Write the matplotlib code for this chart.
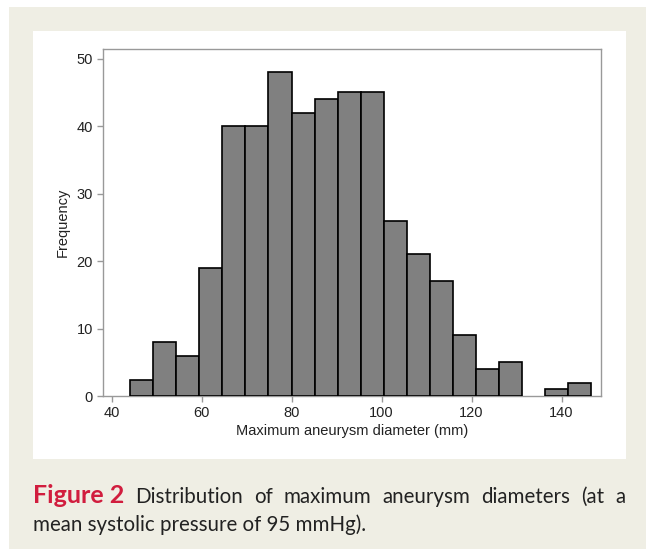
import numpy as np
import matplotlib.pyplot as plt
from matplotlib.patches import Rectangle

# histogram
bin_edges = [44.1, 49.2, 54.35, 59.5, 64.6, 69.7, 74.85, 80.0, 85.1, 90.2, 95.35,
             100.5, 105.6, 110.7, 115.85, 121.0, 126.1, 131.2, 136.35, 141.5, 146.6]
counts = [2.4, 8, 6, 19, 40, 40, 48, 42, 44, 45, 45, 26, 21, 17, 9, 4, 5, 0, 1, 2]
x_ticks = [40, 60, 80, 100, 120, 140]
y_ticks = [0, 10, 20, 30, 40, 50]

xlabel = 'Maximum aneurysm diameter (mm)'
ylabel = 'Frequency'
cap_head = 'Figure 2'
cap_line1 = 'Distribution of maximum aneurysm diameters (at a'
cap_line2 = 'mean systolic pressure of 95 mmHg).'

W, H = 652, 549
fig = plt.figure(figsize=(W / 100, H / 100), dpi=100)
fig.patch.set_facecolor('white')

# beige card and white panel
fig.patches.append(Rectangle((9 / W, 0), (646 - 9) / W, 1 - 7 / H,
                             transform=fig.transFigure, facecolor='#efeee4',
                             edgecolor='none', zorder=-3))
fig.patches.append(Rectangle((33 / W, 1 - 458.5 / H), (625.5 - 33) / W, (458.5 - 31) / H,
                             transform=fig.transFigure, facecolor='white',
                             edgecolor='none', zorder=-2))

ax = fig.add_axes([102.7 / W, 1 - 396 / H, (600.7 - 102.7) / W, (396 - 49.3) / H])
ax.set_zorder(1)
ax.set_facecolor('white')

edges = np.array(bin_edges)
c = np.array(counts, dtype=float)
keep = c > 0
ax.bar(edges[:-1][keep], c[keep], width=np.diff(edges)[keep], align='edge',
       color='#808080', edgecolor='black', linewidth=1.2, zorder=3)

ax.set_xlim(38, 148.7)
ax.set_ylim(0, 51.4)
ax.set_xticks(x_ticks)
ax.set_yticks(y_ticks)

for s in ax.spines.values():
    s.set_color('#999999')
    s.set_linewidth(1.0)
ax.tick_params(colors='#999999', labelcolor='#222222', length=4.5, width=1.0,
               labelsize=10.5, pad=2.5)
for lab in ax.get_xticklabels() + ax.get_yticklabels():
    lab.set_family('Liberation Sans')

ax.set_xlabel(xlabel, family='Liberation Sans', fontsize=10.5, color='#222222', labelpad=3)
ax.set_ylabel(ylabel, family='Liberation Sans', fontsize=10.5, color='#222222', labelpad=5)

# caption, first line justified between the panel edges
cap_font = dict(family='Lato', fontsize=14.8, color='#222222')
fig.canvas.draw()
r = fig.canvas.get_renderer()
x0, x1 = 33, 625

words = [(cap_head, dict(family='Lato', fontsize=18, color='#d11d3e', weight='bold'))]
words += [(w, cap_font) for w in cap_line1.split()]
arts = []
for w, kw in words:
    t = fig.text(0, 1 - 503 / H, w, va='baseline', ha='left', **kw)
    arts.append(t)
widths = [t.get_window_extent(r).width for t in arts]
gap = (x1 - x0 - sum(widths)) / (len(arts) - 1)
x = x0
for t, wd in zip(arts, widths):
    t.set_x(x / W)
    x += wd + gap

fig.text(x0 / W, 1 - 531 / H, cap_line2, va='baseline', ha='left', **cap_font)

fig.savefig('out.png', dpi=100, facecolor=fig.get_facecolor())
